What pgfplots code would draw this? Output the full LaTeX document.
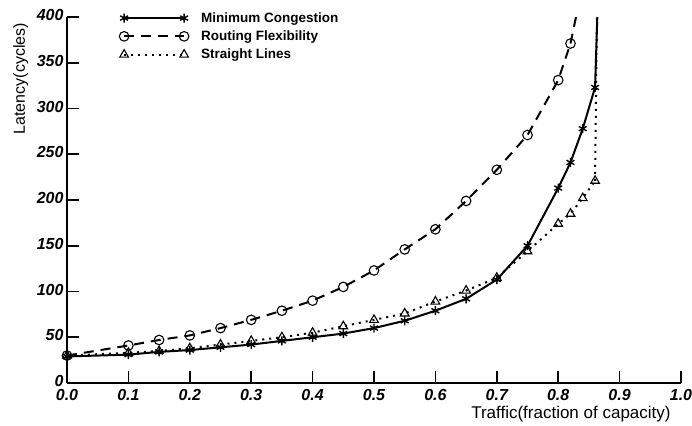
\documentclass[border=0pt]{standalone}
\usepackage{fontspec}
\setmainfont{Liberation Sans}
\usepackage{pgfplots}
\pgfplotsset{compat=1.18}
\begin{document}
\begin{tikzpicture}
\begin{axis}[
 scale only axis, width=614pt, height=366pt,
 xmin=0, xmax=1, ymin=0, ymax=400,
 axis lines=left, axis line style={-, line width=2.2pt},
 tick align=inside, major tick length=12pt, tick style={line width=1.6pt, black},
 xtick={0,0.1,0.2,0.3,0.4,0.5,0.6,0.7,0.8,0.9,1.0},
 ytick={0,50,100,150,200,250,300,350,400},
 xticklabel style={/pgf/number format/fixed, /pgf/number format/fixed zerofill, /pgf/number format/precision=1, yshift=-3pt},
 yticklabel style={yshift=2pt},
 /pgf/number format/assume math mode=true,
 ticklabel style={font=\fontsize{16}{18}\selectfont\bfseries\itshape},
 xlabel={Traffic(fraction of capacity)},
 ylabel={Latency(cycles)},
 xlabel style={font=\fontsize{17}{19}\selectfont, at={(ticklabel cs:0.985)}, anchor=north east, inner sep=1pt, yshift=-1pt},
 ylabel style={font=\fontsize{16}{18}\selectfont, at={(ticklabel cs:1)}, anchor=south east, inner sep=2pt, yshift=3pt, xshift=-4pt},
 legend style={draw=none, fill=none, at={(axis description cs:0.08,1.024)}, anchor=north west,
   font=\fontsize{13.5}{16}\selectfont\bfseries, row sep=3pt},
 legend cell align=left,
 legend image code/.code={\draw[mark repeat=2,mark phase=1,#1] plot coordinates {(0pt,0pt) (30pt,0pt) (60pt,0pt)}; \path (74pt,0pt);},
]
\coordinate (O) at (rel axis cs:0,0);
\coordinate (T) at (rel axis cs:1,1);
\addplot[black, line width=2pt, mark=asterisk, mark size=4.5pt, mark options={solid, line width=1.4pt}] coordinates {
(0,29)(0.1,31)(0.15,34)(0.2,36)(0.25,39)(0.3,42)(0.35,46)(0.4,50)(0.45,54)(0.5,60)(0.55,68)(0.6,79)(0.65,92)(0.7,113)(0.75,150)(0.8,213)(0.82,241)(0.84,278)(0.86,323)};
\addlegendentry{Minimum Congestion}
\addplot[black, line width=2pt, dash pattern=on 10pt off 7pt, mark=o, mark size=4.8pt, mark options={solid, fill=white, line width=1.1pt}] coordinates {
(0,30)(0.1,41)(0.15,47)(0.2,52)(0.25,60)(0.3,69)(0.35,79)(0.4,90)(0.45,105)(0.5,123)(0.55,146)(0.6,168)(0.65,199)(0.7,233)(0.75,271)(0.8,331)(0.82,371)};
\addlegendentry{Routing Flexibility}
\addplot[black, line width=2pt, dash pattern=on 2pt off 5pt, mark=triangle, mark size=5pt, mark options={solid, fill=white, line width=1.1pt}] coordinates {
(0,30)(0.1,33)(0.15,35)(0.2,38)(0.25,42)(0.3,46)(0.35,50)(0.4,55)(0.45,62)(0.5,69)(0.55,76)(0.6,89)(0.65,101)(0.7,115)(0.75,144)(0.8,174)(0.82,185)(0.84,202)(0.86,221)};
\addlegendentry{Straight Lines}
\addplot[forget plot, black, line width=2pt] coordinates {(0.86,323)(0.8637,400)};
\addplot[forget plot, black, line width=2pt, dash pattern=on 10pt off 7pt] coordinates {(0.82,371)(0.829,400)};
\addplot[forget plot, black, line width=2pt, dash pattern=on 2pt off 5pt] coordinates {(0.86,221)(0.863,400)};
\end{axis}
\pgfresetboundingbox
\path ([shift={(-67pt,-42pt)}]O) rectangle ([shift={(11pt,17pt)}]T);
\end{tikzpicture}
\end{document}
